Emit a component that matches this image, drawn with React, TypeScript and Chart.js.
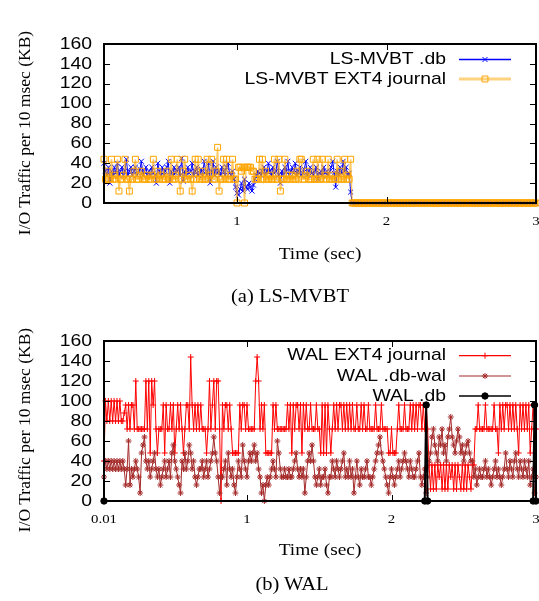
import React, { useEffect, useRef } from 'react';
import { Chart, registerables } from 'chart.js';
Chart.register(...registerables);

const SANS = '"Liberation Sans", Arial, sans-serif';
const SERIF = '"Liberation Serif", "Times New Roman", serif';
const HS = 1.14; // horizontal stretch of the original figure

// ---------- (a) LS-MVBT : samples every 10 ms starting at 0.11 s ----------
const lsStart = 0.11;
const lsDbActive = [
  40,32,28,36,20,32,28,36,30,40,
  28,32,36,28,32,44,28,32,36,28,
  32,36,28,30,34,42,28,32,36,28,
  32,28,36,30,28,20,40,32,28,36,
  28,32,36,42,20,32,28,36,30,32,
  36,28,45,22,32,28,36,30,32,40,
  28,32,36,28,30,34,28,42,32,28,
  40,20,32,42,28,36,30,32,28,36,
  32,28,36,40,30,28,32,24,16,10,
  8,14,20,12,24,16,14,20,16,12,
  18,24,28,32,30,28,32,36,28,32,
  40,32,28,36,30,32,42,28,20,32,
  28,36,32,42,28,32,36,30,40,28,
  32,36,28,30,34,42,28,32,36,30,
  28,32,36,24,30,32,28,36,30,32,
  28,32,36,42,30,16,32,28,36,30,
  42,32,36,28,30,11,
];
const lsJournalActive = [
  44,24,32,24,24,44,24,28,24,44,
  12,24,24,28,44,24,24,12,24,24,
  32,44,24,24,28,32,24,24,24,28,
  24,24,28,44,24,24,32,24,28,24,
  24,24,32,24,24,44,24,24,28,44,
  24,12,24,32,44,24,24,28,24,12,
  24,44,24,44,24,24,32,24,24,44,
  24,28,44,24,24,32,56,12,24,24,
  44,24,44,24,24,28,44,24,24,0,
  36,36,32,36,0,36,36,36,36,32,
  32,24,24,24,44,24,44,24,32,24,
  24,28,24,24,44,24,24,44,12,24,
  24,44,24,24,28,24,28,24,24,32,
  24,44,44,24,24,28,32,24,24,24,
  44,24,24,44,24,24,44,24,28,24,
  44,24,24,28,24,24,44,24,32,24,
  24,44,24,28,24,44,
];
// idle period (1.77 s .. 3.00 s): no traffic for either file
const lsIdleTail = [
  0,0,0,0,0,0,0,0,0,0,0,0,0,0,0,0,0,0,0,0,
  0,0,0,0,0,0,0,0,0,0,0,0,0,0,0,0,0,0,0,0,
  0,0,0,0,0,0,0,0,0,0,0,0,0,0,0,0,0,0,0,0,
  0,0,0,0,0,0,0,0,0,0,0,0,0,0,0,0,0,0,0,0,
  0,0,0,0,0,0,0,0,0,0,0,0,0,0,0,0,0,0,0,0,
  0,0,0,0,0,0,0,0,0,0,0,0,0,0,0,0,0,0,0,0,
  0,0,0,0,
];
const lsXTicks = [1, 2, 3];
const lsXLabels = ['1', '2', '3'];

// ---------- (b) WAL : samples every 10 ms starting at 0.01 s ----------
const walStart = 0.01;
const walJournal = [
  40,100,80,100,80,100,80,100,80,100,
  80,100,80,80,88,96,72,96,72,96,
  96,72,120,72,72,72,72,72,72,120,
  72,120,48,120,96,120,72,48,72,72,
  72,96,48,96,72,72,96,72,96,48,
  72,96,72,96,72,48,72,96,96,72,
  144,96,72,96,72,96,72,96,72,72,
  72,48,72,120,72,96,120,72,120,120,
  72,0,96,72,96,96,72,96,72,48,
  48,48,48,48,96,72,96,96,72,96,
  72,72,72,72,72,120,144,120,72,96,
  72,96,48,48,48,48,48,96,72,96,
  72,72,72,72,72,72,72,96,72,96,
  48,96,72,96,96,72,96,48,96,72,
  96,72,72,96,72,72,72,96,72,72,
  48,96,48,96,48,96,72,48,72,96,
  72,96,72,96,96,72,96,72,96,72,
  96,72,96,72,72,96,72,72,96,72,
  96,72,72,96,72,72,72,72,96,72,
  72,72,96,72,72,72,72,48,48,72,
  48,48,48,72,96,72,72,72,96,72,
  72,72,96,72,96,72,96,72,96,96,
  72,96,72,96,72,36,12,36,12,36,
  12,36,24,36,12,36,12,36,12,36,
  24,36,12,36,12,36,24,12,36,12,
  36,12,36,24,12,36,36,72,72,96,
  72,72,72,72,96,72,72,72,72,72,
  96,72,72,48,96,72,96,72,96,96,
  72,96,72,96,72,96,72,48,96,72,
  96,72,96,72,96,48,72,96,72,72,
];
const walDbWal = [
  24,40,32,40,32,40,32,40,32,40,
  32,40,32,40,32,16,32,60,16,32,
  24,32,40,32,24,8,48,56,64,40,
  32,40,24,32,40,48,32,24,32,16,
  24,32,40,24,32,40,24,48,56,40,
  32,24,16,8,40,32,48,32,40,56,
  48,32,40,24,16,24,32,32,40,24,
  32,40,24,32,40,48,64,48,40,24,
  8,24,24,32,40,16,48,32,24,32,
  16,8,24,40,32,24,56,40,32,24,
  40,48,40,48,56,40,48,32,24,8,
  16,0,16,24,16,24,32,40,32,24,
  60,48,32,24,24,32,24,24,32,24,
  24,32,40,48,32,24,32,24,32,8,
  24,40,48,40,56,40,24,16,24,32,
  16,24,24,32,16,8,24,24,40,32,
  24,40,32,24,32,40,48,24,32,24,
  40,24,32,8,24,40,24,16,32,24,
  24,32,40,24,24,16,24,32,40,48,
  56,64,48,40,32,24,16,8,24,32,
  24,16,24,32,40,24,32,40,48,40,
  32,24,40,32,24,24,32,40,48,24,
  16,24,32,8,24,40,48,64,72,56,
  48,40,64,56,72,48,56,40,64,72,
  84,64,56,48,60,72,64,48,56,40,
  48,56,60,48,40,40,24,32,16,24,
  32,24,24,32,40,24,32,24,16,24,
  32,40,24,32,24,16,24,32,48,32,
  24,40,32,24,40,48,32,24,40,32,
  24,40,32,24,40,16,24,32,8,24,
];
const walDbTimes = [0.01, 2.23, 2.24, 2.25, 2.98, 2.99, 3.0];
const walDbValues = [0, 0, 96, 0, 0, 96, 0];
const walXTicks = [0.01, 1, 2, 3];
const walXLabels = ['0.01', '1', '2', '3'];

const yTicks = [0, 20, 40, 60, 80, 100, 120, 140, 160];

type Marker = 'cross' | 'crossRot' | 'star' | 'rect' | 'circle';
interface LegendItem { label: string; lineColor: string; lineWidth: number; marker: Marker; r: number; color: string; }

function drawMarker(ctx: CanvasRenderingContext2D, style: Marker, x: number, y: number, r: number, color: string) {
  ctx.save();
  ctx.strokeStyle = color;
  ctx.fillStyle = color;
  ctx.lineWidth = 1;
  ctx.beginPath();
  const d = r * Math.SQRT1_2;
  if (style === 'cross' || style === 'star') {
    ctx.moveTo(x - r, y); ctx.lineTo(x + r, y);
    ctx.moveTo(x, y - r); ctx.lineTo(x, y + r);
  }
  if (style === 'crossRot' || style === 'star') {
    ctx.moveTo(x - d, y - d); ctx.lineTo(x + d, y + d);
    ctx.moveTo(x - d, y + d); ctx.lineTo(x + d, y - d);
  }
  if (style === 'rect') ctx.rect(x - d, y - d, 2 * d, 2 * d);
  if (style === 'circle') { ctx.arc(x, y, r, 0, Math.PI * 2); ctx.fill(); }
  ctx.stroke();
  ctx.restore();
}

function stretchedText(ctx: CanvasRenderingContext2D, text: string, x: number, y: number, align: CanvasTextAlign, font: string) {
  ctx.save();
  ctx.translate(x, y);
  ctx.scale(HS, 1);
  ctx.font = font;
  ctx.textAlign = align;
  ctx.textBaseline = 'middle';
  ctx.fillStyle = '#000';
  ctx.fillText(text, 0, 0);
  ctx.restore();
}

function makeFramePlugin(xTicks: number[], xLabels: string[], legend: LegendItem[], legendRows: number[]) {
  return {
    id: 'gnuFrame',
    afterDatasetsDraw(chart: any) {
      const ctx: CanvasRenderingContext2D = chart.ctx;
      const a = chart.chartArea;
      const xs = chart.scales.x;
      const ys = chart.scales.y;
      ctx.save();
      // inner ticks
      ctx.strokeStyle = '#000';
      ctx.lineWidth = 1;
      ctx.beginPath();
      for (const v of yTicks) {
        const y = Math.round(ys.getPixelForValue(v)) + 0.5;
        ctx.moveTo(a.left, y); ctx.lineTo(a.left + 6, y);
        ctx.moveTo(a.right, y); ctx.lineTo(a.right - 6, y);
      }
      for (const v of xTicks) {
        const x = Math.round(xs.getPixelForValue(v)) + 0.5;
        ctx.moveTo(x, a.bottom); ctx.lineTo(x, a.bottom - 6);
        ctx.moveTo(x, a.top); ctx.lineTo(x, a.top + 6);
      }
      ctx.stroke();
      // frame
      ctx.lineWidth = 2;
      ctx.strokeRect(a.left, a.top, a.right - a.left, a.bottom - a.top);
      // tick labels
      for (const v of yTicks) {
        stretchedText(ctx, String(v), a.left - 12, ys.getPixelForValue(v), 'right', `17px ${SANS}`);
      }
      xTicks.forEach((v, i) => {
        stretchedText(ctx, xLabels[i], xs.getPixelForValue(v), a.bottom + 19, 'center', `13px ${SERIF}`);
      });
      // legend (gnuplot style: text right-aligned, sample at right)
      legend.forEach((it, i) => {
        const y = legendRows[i];
        stretchedText(ctx, it.label, 446, y, 'right', `17px ${SANS}`);
        ctx.save();
        ctx.strokeStyle = it.lineColor;
        ctx.lineWidth = it.lineWidth;
        ctx.beginPath();
        ctx.moveTo(459, y); ctx.lineTo(511, y);
        ctx.stroke();
        ctx.restore();
        drawMarker(ctx, it.marker, 485, y, it.r, it.color);
      });
      ctx.restore();
    },
  };
}

const BLUE = '#0000ff';
const ORANGE = '#ffa500';
const ORANGE_LINE = 'rgba(255,165,0,0.6)';
const RED = '#ff0000';
const BROWN = '#a52a2a';

function topConfig(): any {
  const toPts = (vals: number[]) => vals.map((v, i) => ({ x: Math.round((lsStart + i * 0.01) * 100) / 100, y: v }));
  const db = toPts([...lsDbActive, ...lsIdleTail]);
  const jr = toPts([...lsJournalActive, ...lsIdleTail]);
  const legend: LegendItem[] = [
    { label: 'LS-MVBT .db', lineColor: BLUE, lineWidth: 1.3, marker: 'crossRot', r: 3.5, color: BLUE },
    { label: 'LS-MVBT EXT4 journal', lineColor: 'rgba(255,165,0,0.5)', lineWidth: 3, marker: 'rect', r: 4.2, color: ORANGE },
  ];
  return {
    type: 'line',
    data: {
      datasets: [
        { label: 'LS-MVBT .db', data: db, borderColor: BLUE, borderWidth: 1, pointStyle: 'crossRot', pointRadius: 3.5, pointBorderColor: BLUE, pointBackgroundColor: 'transparent', pointBorderWidth: 1, order: 2, clip: false },
        { label: 'LS-MVBT EXT4 journal', data: jr, borderColor: ORANGE_LINE, borderWidth: 1.5, pointStyle: 'rect', pointRadius: 4.2, pointBorderColor: ORANGE, pointBackgroundColor: 'transparent', pointBorderWidth: 1, order: 1, clip: false },
      ],
    },
    options: {
      animation: false,
      responsive: false,
      events: [],
      layout: { padding: { left: 104, right: 3, top: 44, bottom: 300 - 203 }, autoPadding: false },
      scales: {
        x: { type: 'linear', display: false, min: lsStart, max: 3 },
        y: { type: 'linear', display: false, min: 0, max: 160 },
      },
      plugins: { legend: { display: false }, tooltip: { enabled: false } },
    },
    plugins: [makeFramePlugin(lsXTicks, lsXLabels, legend, [59.5, 79])],
  };
}

function bottomConfig(): any {
  const toPts = (vals: number[]) => vals.map((v, i) => ({ x: Math.round((walStart + i * 0.01) * 100) / 100, y: v }));
  const legend: LegendItem[] = [
    { label: 'WAL EXT4 journal', lineColor: RED, lineWidth: 1.2, marker: 'cross', r: 3, color: RED },
    { label: 'WAL .db-wal', lineColor: BROWN, lineWidth: 1.2, marker: 'star', r: 3, color: BROWN },
    { label: 'WAL .db', lineColor: '#000', lineWidth: 1.5, marker: 'circle', r: 3.2, color: '#000' },
  ];
  return {
    type: 'line',
    data: {
      datasets: [
        { label: 'WAL EXT4 journal', data: toPts(walJournal), borderColor: RED, borderWidth: 1, pointStyle: 'cross', pointRadius: 3, pointBorderColor: RED, pointBorderWidth: 1, order: 3, clip: false },
        { label: 'WAL .db-wal', data: toPts(walDbWal), borderColor: BROWN, borderWidth: 1, pointStyle: 'star', pointRadius: 3, pointBorderColor: BROWN, pointBorderWidth: 1, order: 2, clip: false },
        { label: 'WAL .db', data: walDbTimes.map((t, i) => ({ x: t, y: walDbValues[i] })), borderColor: '#000', borderWidth: 2, pointStyle: 'circle', pointRadius: 3.2, pointBorderColor: '#000', pointBackgroundColor: '#000', pointBorderWidth: 1, order: 1, clip: false },
      ],
    },
    options: {
      animation: false,
      responsive: false,
      events: [],
      layout: { padding: { left: 104, right: 3, top: 41, bottom: 301 - 201 }, autoPadding: false },
      scales: {
        x: { type: 'linear', display: false, min: walStart, max: 3 },
        y: { type: 'linear', display: false, min: 0, max: 160 },
      },
      plugins: { legend: { display: false }, tooltip: { enabled: false } },
    },
    plugins: [makeFramePlugin(walXTicks, walXLabels, legend, [55.7, 76, 96])],
  };
}

function ChartCanvas({ top, height, makeConfig }: { top: number; height: number; makeConfig: () => any }) {
  const ref = useRef<HTMLCanvasElement>(null);
  useEffect(() => {
    const chart = new Chart(ref.current as HTMLCanvasElement, makeConfig());
    return () => chart.destroy();
  }, []);
  return (
    <canvas
      ref={ref}
      width={539}
      height={height}
      style={{ position: 'absolute', left: 0, top, width: 539, height, display: 'block' }}
    />
  );
}

function Label({ x, y, text, size, rotate }: { x: number; y: number; text: string; size: number; rotate?: boolean }) {
  return (
    <div
      style={{
        position: 'absolute',
        left: x,
        top: y,
        transform: rotate ? 'translate(-50%, -50%) rotate(-90deg)' : `translate(-50%, -50%) scaleX(${HS})`,
        fontFamily: SERIF,
        fontSize: size,
        lineHeight: 1,
        whiteSpace: 'nowrap',
        color: '#000',
      }}
    >
      {text}
    </div>
  );
}

export default function App() {
  return (
    <div style={{ position: 'absolute', left: 0, top: 0, width: 539, height: 601, background: '#fff', overflow: 'hidden' }}>
      <ChartCanvas top={0} height={300} makeConfig={topConfig} />
      <ChartCanvas top={300} height={301} makeConfig={bottomConfig} />
      <Label x={25} y={133} text="I/O Traffic per 10 msec (KB)" size={17.5} rotate />
      <Label x={320} y={253} text="Time (sec)" size={17} />
      <Label x={290} y={296} text="(a) LS-MVBT" size={18} />
      <Label x={25} y={430} text="I/O Traffic per 10 msec (KB)" size={17.5} rotate />
      <Label x={320} y={549} text="Time (sec)" size={17} />
      <Label x={292} y={584} text="(b) WAL" size={18} />
    </div>
  );
}
